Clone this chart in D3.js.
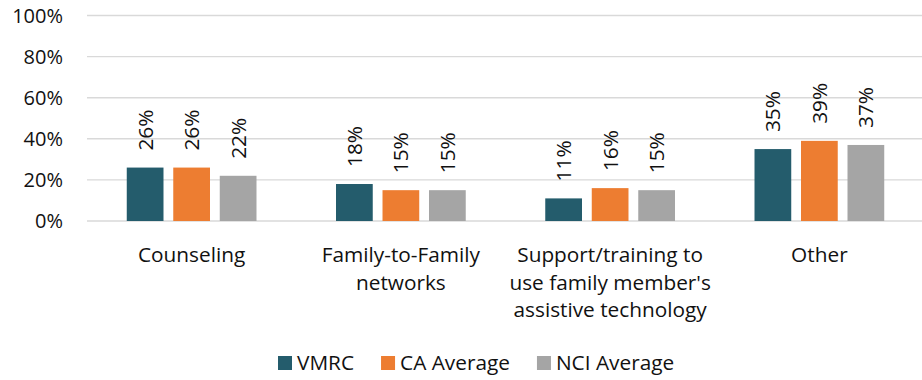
<!DOCTYPE html>
<html>
<head>
<meta charset="utf-8">
<script src="https://cdn.jsdelivr.net/npm/d3@7"></script>
<style>
  html, body { margin: 0; padding: 0; background: #fff; }
  svg { display: block; font-family: "Open Sans", "Noto Sans", sans-serif; }
</style>
</head>
<body>
<svg id="chart" width="922" height="380"></svg>
<script>
// Categories (each label split into display lines)
const categories = [
  ["Counseling"],
  ["Family-to-Family", "networks"],
  ["Support/training to", "use family member's", "assistive technology"],
  ["Other"]
];
const seriesNames = ["VMRC", "CA Average", "NCI Average"];
const seriesColors = ["#245C6C", "#ED7D31", "#A5A5A5"];

// Percent values per series, in category order
const vmrc = [26, 18, 11, 35];
const caAverage = [26, 15, 16, 39];
const nciAverage = [22, 15, 15, 37];

const yTicks = [0, 20, 40, 60, 80, 100];

const seriesValues = [vmrc, caAverage, nciAverage];
const catKeys = categories.map((c, i) => i);
const textColor = "#111";
const labelSize = 20.8;

const svg = d3.select("#chart");

const x0 = d3.scaleBand()
  .domain(catKeys)
  .range([87, 924])
  .paddingInner(0.38)
  .paddingOuter(0.19);

const x1 = d3.scaleBand()
  .domain(seriesNames)
  .range([0, x0.bandwidth()])
  .paddingInner(0.21)
  .paddingOuter(0);

const y = d3.scaleLinear().domain([0, 100]).range([221, 15.5]);

// Gridlines
svg.append("g")
  .selectAll("line")
  .data(yTicks)
  .join("line")
  .attr("x1", 87)
  .attr("x2", 922)
  .attr("y1", d => y(d))
  .attr("y2", d => y(d))
  .attr("stroke", "#D9D9D9")
  .attr("stroke-width", 1.4);

// Y axis labels
svg.append("g")
  .selectAll("text")
  .data(yTicks)
  .join("text")
  .attr("x", 63)
  .attr("y", d => y(d))
  .attr("dy", "0.36em")
  .attr("text-anchor", "end")
  .attr("font-size", 20)
  .attr("fill", textColor)
  .text(d => d + "%");

// Bars and value labels
const groups = svg.append("g")
  .selectAll("g")
  .data(catKeys)
  .join("g")
  .attr("transform", d => `translate(${x0(d)},0)`);

const cells = groups.selectAll("g")
  .data(ci => seriesNames.map((s, si) => ({ series: s, si, value: seriesValues[si][ci] })))
  .join("g");

cells.append("rect")
  .attr("x", d => x1(d.series))
  .attr("width", x1.bandwidth())
  .attr("y", d => y(d.value))
  .attr("height", d => y(0) - y(d.value))
  .attr("fill", d => seriesColors[d.si]);

cells.append("text")
  .attr("transform", d => `translate(${x1(d.series) + x1.bandwidth() / 2},${y(d.value) - 17}) rotate(-90)`)
  .attr("dy", "0.36em")
  .attr("text-anchor", "start")
  .attr("font-size", labelSize)
  .attr("fill", textColor)
  .text(d => d.value + "%");

// Category labels
const catLabels = svg.append("g")
  .selectAll("text")
  .data(catKeys)
  .join("text")
  .attr("x", d => x0(d) + x0.bandwidth() / 2)
  .attr("y", 262)
  .attr("text-anchor", "middle")
  .attr("font-size", labelSize)
  .attr("fill", textColor);

catLabels.selectAll("tspan")
  .data(d => categories[d])
  .join("tspan")
  .attr("x", function () { return d3.select(this.parentNode).attr("x"); })
  .attr("dy", (d, i) => i === 0 ? 0 : 27.5)
  .text(d => d);

// Legend
const legend = svg.append("g");
let lx = 278;
seriesNames.forEach((name, i) => {
  legend.append("rect")
    .attr("x", lx)
    .attr("y", 356)
    .attr("width", 14)
    .attr("height", 14)
    .attr("fill", seriesColors[i]);
  const t = legend.append("text")
    .attr("x", lx + 19)
    .attr("y", 370)
    .attr("font-size", labelSize)
    .attr("fill", textColor)
    .text(name);
  lx += 19 + t.node().getComputedTextLength() + 27;
});
</script>
</body>
</html>
